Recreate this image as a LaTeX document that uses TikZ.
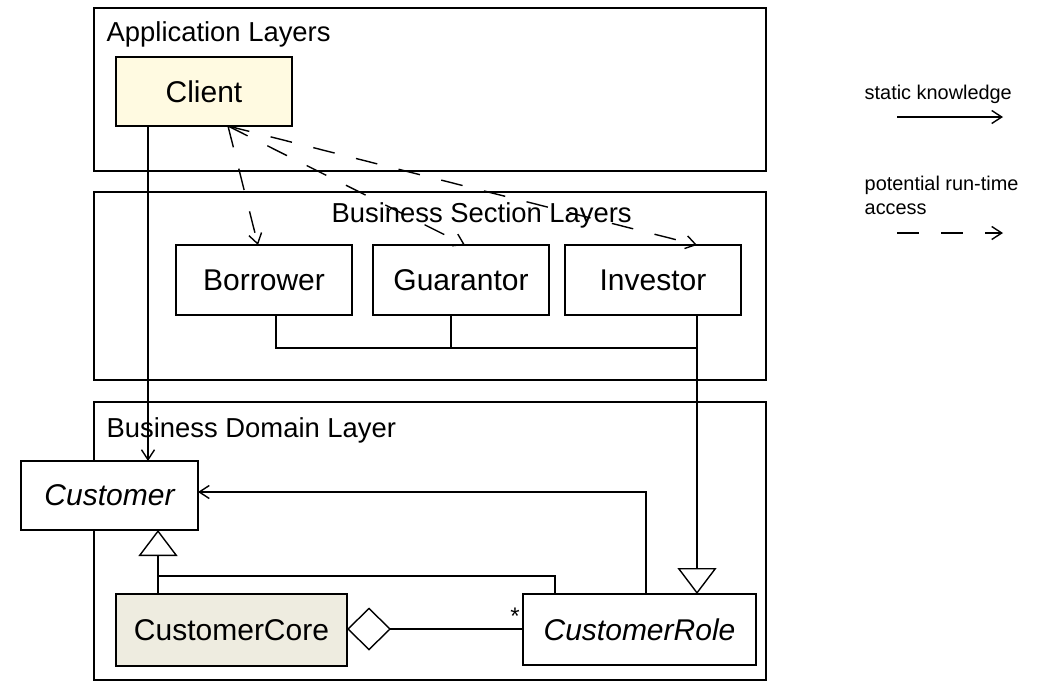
\documentclass[tikz,border=0pt]{standalone}
\usepackage{fontspec}
\setmainfont{Liberation Sans}
\usetikzlibrary{arrows.meta,calc}
\definecolor{clientfill}{RGB}{255,250,225}
\definecolor{corefill}{RGB}{238,236,224}
\begin{document}
\begin{tikzpicture}[x=1pt,y=-1pt,
  line width=1.4pt,
  layerbox/.style={draw,inner sep=0pt,outer sep=0pt,anchor=north west},
  classbox/.style={draw,inner sep=0pt,outer sep=0pt,anchor=north west,font=\fontsize{30}{35}\selectfont},
  layertitle/.style={inner sep=0pt,anchor=base west,font=\fontsize{27.4}{32}\selectfont},
  legendtext/.style={inner sep=0pt,anchor=base west,font=\fontsize{19.9}{24}\selectfont,align=left},
  static/.style={-{Straight Barb[length=10pt,width=13pt,line width=1.4pt]}},
  runtime/.style={dash pattern=on 22pt off 22pt,-{Straight Barb[length=10pt,width=13pt,line width=1.4pt]}},
  general/.style={-{Triangle[open,length=26pt,width=39pt,line width=1.4pt]}},
  aggreg/.style={-{Diamond[open,length=44pt,width=43pt,line width=1.4pt]}}
]
\useasboundingbox (0,0) rectangle (1056,688);
% layers
\node[layerbox,minimum width=672pt,minimum height=163pt] (app) at (94,8) {};
\node[layerbox,minimum width=672pt,minimum height=188pt] (sec) at (94,192) {};
\node[layerbox,minimum width=672pt,minimum height=278pt] (dom) at (94,402) {};
\node[layertitle] (apptitle) at (106,41) {Application Layers};
\node[layertitle] (sectitle) at (331,222) {Business Section Layers};
\node[layertitle] (domtitle) at (106,437) {Business Domain Layer};
% classes
\node[classbox,fill=clientfill,minimum width=176pt,minimum height=69pt] (client) at (116,57) {Client};
\node[classbox,fill=white,minimum width=176pt,minimum height=70pt] (borrower) at (176,245) {Borrower};
\node[classbox,fill=white,minimum width=176pt,minimum height=70pt] (guarantor) at (373,245) {Guarantor};
\node[classbox,fill=white,minimum width=176pt,minimum height=70pt] (investor) at (565,245) {Investor};
\node[classbox,fill=white,minimum width=177pt,minimum height=69pt] (customer) at (21,461) {\itshape Customer};
\node[classbox,fill=corefill,minimum width=231pt,minimum height=72pt] (core) at (116,594) {CustomerCore};
\node[classbox,fill=white,minimum width=233pt,minimum height=71pt] (role) at (523,594) {\itshape CustomerRole};
% helper coordinates
\coordinate (cx) at (148,0);
\coordinate (dstart) at (228,126);
\coordinate (bx) at (258,0);
\coordinate (gx) at (465,0);
\coordinate (ix) at (697,0);
\coordinate (bbx) at (276,0);
\coordinate (gbx) at (451,0);
\coordinate (busy) at (0,348);
\coordinate (genx) at (158,0);
\coordinate (geny) at (0,576);
\coordinate (rlx) at (555,0);
\coordinate (rrx) at (646,0);
\coordinate (assy) at (0,492);
\coordinate (aggy) at (0,629);
% static knowledge
\draw[static] (client.south -| cx) -- (customer.north -| cx);
% run-time access
\draw[runtime] (dstart) -- (borrower.north -| bx);
\draw[runtime] (dstart) -- (guarantor.north -| gx);
\draw[runtime] (dstart) -- (investor.north -| ix);
% business section joins
\draw (borrower.south -| bbx) -- (busy -| bbx) -- (busy -| gbx);
\draw (guarantor.south -| gbx) -- (busy -| gbx) -- (busy -| ix);
\draw[general] (investor.south -| ix) -- (role.north -| ix);
% generalization core -> customer
\draw[general] (core.north -| genx) -- (customer.south -| genx);
\draw (geny -| genx) -- (geny -| rlx) -- (role.north -| rlx);
% role -> customer association
\draw[static] (role.north -| rrx) -- (assy -| rrx) -- (assy -| customer.east);
% aggregation
\draw[aggreg] (role.west |- aggy) -- (core.east |- aggy);
\node[inner sep=0pt,font=\fontsize{24}{28}\selectfont] (star) at (515,616) {*};
% legend
\node[legendtext] (lg1) at (864,99) {static knowledge};
\node[legendtext,anchor=north west] (lg2) at (864,175) {potential run-time\\access};
\coordinate (l1a) at (897,117);
\coordinate (l1b) at (1003,117);
\coordinate (l2a) at (897,233);
\coordinate (l2b) at (1003,233);
\draw[static] (l1a) -- (l1b);
\draw[runtime] (l2a) -- (l2b);
\end{tikzpicture}
\end{document}
